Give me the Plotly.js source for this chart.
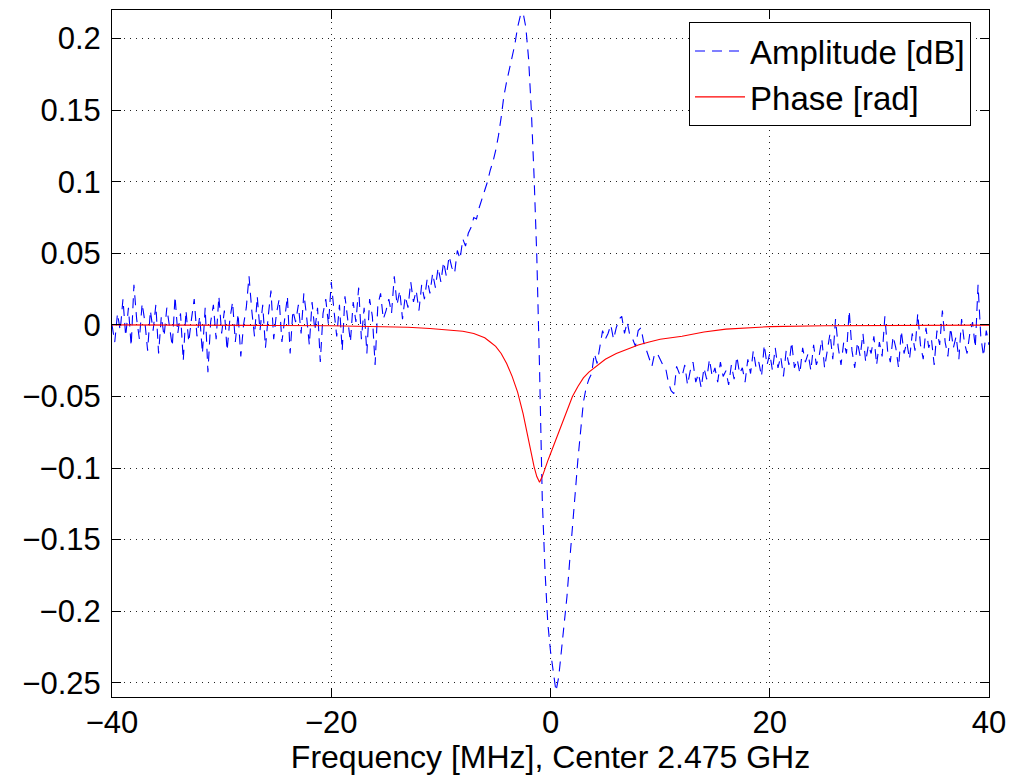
<!DOCTYPE html>
<html>
<head>
<meta charset="utf-8">
<script src="https://cdn.plot.ly/plotly-3.0.1.min.js"></script>
<style>
  html, body { margin: 0; padding: 0; background: #fff; }
  #chart { width: 1027px; height: 775px; }
</style>
</head>
<body>
<div id="chart"></div>
<script>
// ---- Data ----
// Amplitude samples on a uniform frequency grid: start -40 MHz, step 0.25 MHz
const ampFreqStart = -40;
const ampFreqStep = 0.25;
const amplitudeDb = [
  // -40 .. -37.75
  0.000, -0.012, 0.008, -0.004, 0.018, -0.008, 0.012, -0.015, 0.028, 0.004,
  // -37.5 .. -35.25
  -0.010, 0.015, 0.002, -0.018, 0.010, -0.004, 0.014, -0.020, 0.006, -0.008,
  // -35 .. -32.75
  0.012, 0.000, -0.015, 0.020, -0.006, 0.008, -0.025, 0.010, -0.012, 0.004,
  // -32.5 .. -30.25
  0.018, -0.008, 0.006, -0.020, 0.012, -0.033, 0.002, 0.014, -0.010, 0.020,
  // -30 .. -27.75
  -0.006, 0.010, -0.018, 0.004, 0.016, -0.012, 0.008, -0.022, 0.000, 0.012,
  // -27.5 .. -25.25
  0.034, 0.010, -0.008, 0.020, -0.004, 0.014, -0.016, 0.006, 0.024, -0.010,
  // -25 .. -22.75
  0.008, 0.018, -0.012, 0.004, 0.020, -0.020, 0.010, 0.002, 0.014, -0.006,
  // -22.5 .. -20.25
  0.022, 0.006, -0.014, 0.016, -0.004, 0.012, -0.026, 0.008, 0.018, 0.000,
  // -20 .. -17.75
  0.030, 0.010, -0.008, 0.014, -0.018, 0.020, 0.004, -0.012, 0.016, 0.002,
  // -17.5 .. -15.25
  0.026, -0.010, 0.012, -0.020, 0.018, 0.006, -0.028, 0.014, 0.022, 0.004,
  // -15
  0.010,
  // -14.75 .. -10.25
  0.018, 0.008, 0.034, 0.014, 0.024, 0.004, 0.020, 0.012, 0.030, 0.016,
  0.024, 0.010, 0.028, 0.018, 0.032, 0.022, 0.036, 0.026, 0.040,
  // -10 .. -7.75
  0.030, 0.044, 0.034, 0.048, 0.040, 0.036, 0.052, 0.046, 0.060, 0.055,
  // -7.5 .. -5.25
  0.064, 0.068, 0.075, 0.074, 0.082, 0.088, 0.095, 0.100, 0.108, 0.114,
  // -5 .. -2.75
  0.122, 0.132, 0.145, 0.160, 0.170, 0.178, 0.186, 0.196, 0.208, 0.216,
  // -2.5 .. -0.25
  0.218, 0.208, 0.186, 0.150, 0.104, 0.048, -0.030, -0.122, -0.172, -0.208,
  // 0 .. 2.25
  -0.228, -0.244, -0.256, -0.246, -0.228, -0.212, -0.190, -0.165, -0.138, -0.118,
  // 2.5 .. 4.75
  -0.094, -0.071, -0.054, -0.044, -0.038, -0.034, -0.020, -0.027, -0.014, -0.004,
  // 5 .. 7.25
  -0.010, -0.006, 0.000, -0.010, -0.002, 0.004, 0.006, -0.006, 0.002, -0.008,
  // 7.5 .. 9.75
  -0.010, -0.015, -0.004, -0.002, -0.012, -0.018, -0.024, -0.029, -0.020, -0.020,
  // 10 .. 11.75
  -0.024, -0.028, -0.030, -0.040, -0.046, -0.048, -0.029, -0.034,
  // 12 .. 14.75
  -0.036, -0.028, -0.042, -0.032, -0.026, -0.040, -0.034, -0.044, -0.030, -0.038, -0.024, -0.036,
  // 15 .. 17.75
  -0.030, -0.040, -0.026, -0.036, -0.032, -0.042, -0.028, -0.038, -0.022, -0.034, -0.030, -0.040,
  // 18 .. 20.75
  -0.024, -0.034, -0.018, -0.030, -0.026, -0.036, -0.014, -0.028, -0.020, -0.032, -0.016, -0.030,
  // 21 .. 23.75
  -0.022, -0.036, -0.018, -0.028, -0.012, -0.030, -0.024, -0.034, -0.016, -0.026, -0.020, -0.032,
  // 24 .. 26.75
  -0.014, -0.028, -0.022, -0.010, -0.030, -0.018, -0.006, -0.024, 0.004, -0.016, -0.028, -0.012,
  // 27 .. 29.75
  -0.020, 0.010, -0.018, -0.030, -0.012, -0.022, -0.006, -0.026, -0.014, -0.020, -0.008, -0.028,
  // 30 .. 32.75
  -0.012, -0.022, 0.006, -0.018, -0.026, -0.008, -0.016, -0.030, -0.004, -0.020, -0.012, -0.024,
  // 33 .. 35.75
  -0.006, -0.018, 0.008, -0.014, -0.024, -0.002, -0.016, -0.010, -0.028, -0.004, -0.014, 0.010,
  // 36 .. 38.75
  -0.012, -0.022, -0.002, -0.016, -0.008, -0.024, 0.004, -0.012, -0.020, -0.006, 0.002, -0.016,
  // 39 .. 40
  0.028, -0.008, -0.022, -0.004, -0.014
];

const phaseFreq = [-40, -35, -30, -25, -20, -17, -15, -13, -11, -10, -9, -8, -7, -6.5, -6, -5.5, -5, -4.5, -4,
  -3.5, -3, -2.5, -2, -1.75, -1.5, -1.25, -1, -0.75, -0.5, -0.25, 0, 0.5, 1, 1.5, 2, 2.5, 3, 3.5, 4, 5, 6, 7, 8,
  9, 10, 12, 14, 16, 18, 20, 25, 30, 35, 40];
const phaseRad = [0.0000, 0.0000, -0.0002, -0.0004, -0.0006, -0.0009, -0.0012, -0.0017, -0.0025, -0.0030,
  -0.0035, -0.0045, -0.0060, -0.0075, -0.0090, -0.0120, -0.0150, -0.0200, -0.0270, -0.0360, -0.0470, -0.0620,
  -0.0810, -0.0900, -0.0990, -0.1060, -0.1100, -0.1060, -0.1000, -0.0950, -0.0900, -0.0800, -0.0700, -0.0590,
  -0.0500, -0.0430, -0.0370, -0.0330, -0.0300, -0.0240, -0.0200, -0.0170, -0.0140, -0.0120, -0.0100, -0.0080,
  -0.0050, -0.0030, -0.0020, -0.0012, -0.0006, -0.0004, -0.0003, -0.0002];

const seriesNames = ['Amplitude [dB]', 'Phase [rad]'];
const xTickVals = [-40, -20, 0, 20, 40];
const xTickText = ['\u221240', '\u221220', '0', '20', '40'];
const yTickVals = [0.2, 0.15, 0.1, 0.05, 0, -0.05, -0.1, -0.15, -0.2, -0.25];
const yTickText = ['0.2', '0.15', '0.1', '0.05', '0', '\u22120.05', '\u22120.1', '\u22120.15', '\u22120.2', '\u22120.25'];
const xTitle = 'Frequency [MHz], Center 2.475 GHz';

// ---- Chart ----
const FONT = '"Liberation Sans", Arial, Helvetica, sans-serif';

const traces = [
  {
    type: 'scatter', mode: 'lines', name: seriesNames[0],
    x0: ampFreqStart, dx: ampFreqStep, y: amplitudeDb,
    line: { color: '#0000ff', width: 1.1, dash: '10px,7px' }
  },
  {
    type: 'scatter', mode: 'lines', name: seriesNames[1],
    x: phaseFreq, y: phaseRad,
    line: { color: '#ff0000', width: 1.1 }
  }
];

const axisCommon = {
  showline: true, linecolor: '#000', linewidth: 1,
  mirror: 'ticks', ticks: 'inside', ticklen: 9, tickcolor: '#000', tickwidth: 1,
  showgrid: true, gridcolor: '#222', gridwidth: 1, griddash: '1px,5px',
  zeroline: false, tickfont: { family: FONT, size: 31, color: '#000' }
};

const layout = {
  width: 1027, height: 775,
  margin: { l: 112, r: 38, t: 10, b: 78, pad: 0 },
  paper_bgcolor: '#fff', plot_bgcolor: '#fff',
  font: { family: FONT, size: 31, color: '#000' },
  showlegend: true,
  legend: {
    x: 0.9795, xanchor: 'right', y: 0.9825, yanchor: 'top',
    bgcolor: '#fff', bordercolor: '#000', borderwidth: 1,
    font: { family: FONT, size: 33, color: '#000' },
    tracegroupgap: 0, itemwidth: 50
  },
  xaxis: Object.assign({}, axisCommon, {
    range: [-40, 40], tickmode: 'array', tickvals: xTickVals, ticktext: xTickText,
    title: { text: xTitle, font: { family: FONT, size: 32, color: '#000' }, standoff: 9 },
    automargin: false, ticklabelstandoff: -2
  }),
  yaxis: Object.assign({}, axisCommon, {
    range: [-0.26, 0.22], tickmode: 'array', tickvals: yTickVals, ticktext: yTickText,
    automargin: false, ticklabelstandoff: 4
  })
};

Plotly.newPlot('chart', traces, layout, { displayModeBar: false, staticPlot: true });
</script>
</body>
</html>
